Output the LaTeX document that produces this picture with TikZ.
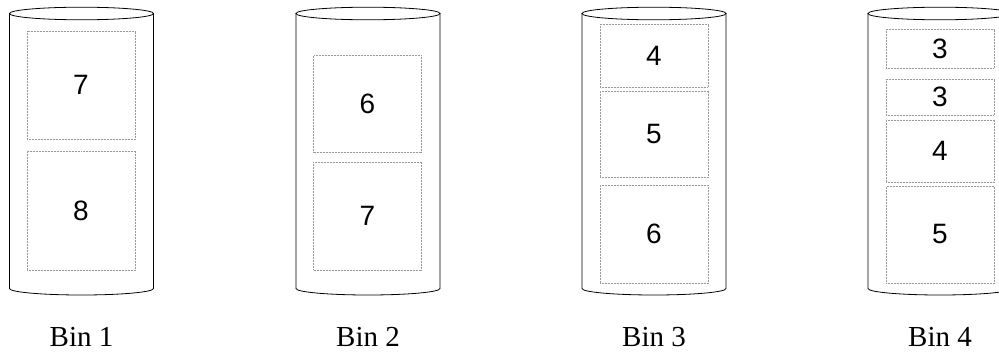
\documentclass[tikz,border=0pt]{standalone}
\usepackage{fontspec}
\setmainfont{Liberation Serif}
\newfontfamily\itemfont{Liberation Sans}

\begin{document}
\begin{tikzpicture}[x=1pt, y=-1pt,
    item/.style={draw=gray!80, densely dotted, line width=0.5pt, minimum width=108pt,
                 inner sep=0pt, font=\itemfont\fontsize{28}{30}\selectfont},
    binlabel/.style={anchor=base, inner sep=0pt, font=\fontsize{29}{32}\selectfont},
    wall/.style={line width=0.8pt}
]
\useasboundingbox (0,0) rectangle (999,353);
%% ============================================================
%% the four bins: open top ellipse, walls, rounded bottom
%% ============================================================
\begin{scope}
\clip (0,0) rectangle (999,353);
\foreach \cx/\n in {81.5/1, 368/2, 654/3, 940/4} {
  \coordinate (bin\n) at (\cx,13.5);
  \draw[wall] (bin\n) ellipse [x radius=72pt, y radius=6.3pt];
  \draw[wall] ([xshift=-72pt]bin\n) -- ++(0,275)
      arc [start angle=180, end angle=360, x radius=72pt, y radius=6.5pt]
      -- ([xshift=72pt]bin\n);
}
\end{scope}
\foreach \cx/\n in {81.5/1, 368/2, 654/3, 940/4}
  \node[binlabel] (label\n) at (\cx,346) {Bin \n};
%% ============================================================
%% items packed into each bin
%% ============================================================
\node[item, minimum height=108pt] (i1a) at (81,85)    {7};
\node[item, minimum height=119pt] (i1b) at (81,210.5) {8};

\node[item, minimum height=97pt]  (i2a) at (367.5,103.5) {6};
\node[item, minimum height=108pt] (i2b) at (367.5,216)   {7};

\node[item, minimum height=63pt] (i3a) at (654,55.5) {4};
\node[item, minimum height=86pt] (i3b) at (654,134)  {5};
\node[item, minimum height=98pt] (i3c) at (654,234)  {6};

\node[item, minimum height=39pt] (i4a) at (940,48.5)  {3};
\node[item, minimum height=36pt] (i4b) at (940,97)    {3};
\node[item, minimum height=62pt] (i4c) at (940,151)   {4};
\node[item, minimum height=97pt] (i4d) at (940,234.5) {5};
\end{tikzpicture}
\end{document}
